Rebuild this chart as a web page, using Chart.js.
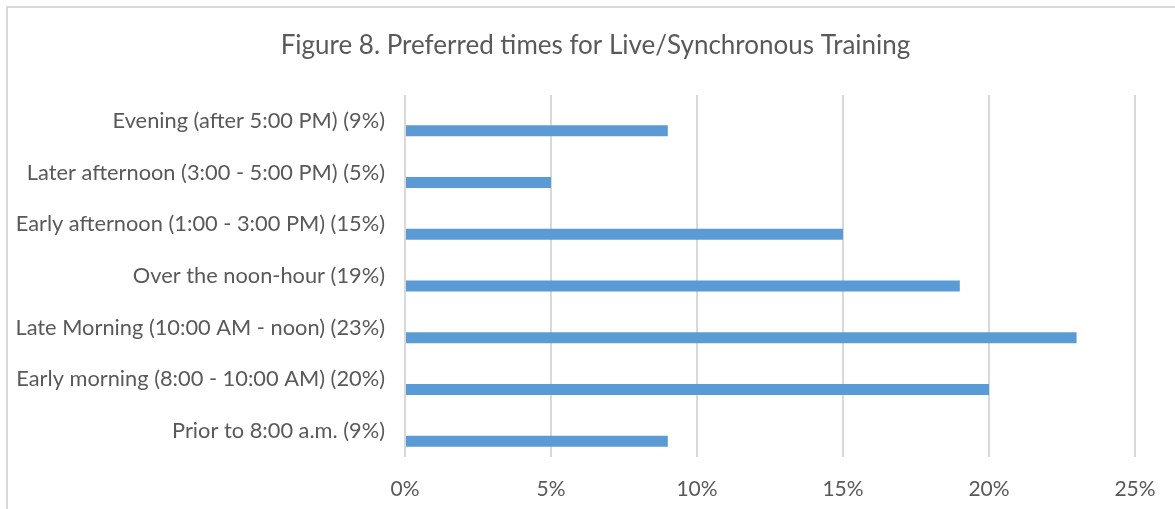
<!DOCTYPE html>
<html>
<head>
<meta charset="utf-8">
<script src="https://cdn.jsdelivr.net/npm/chart.js@4"></script>
<style>
html,body{margin:0;padding:0;background:#fff;overflow:hidden;width:1175px;height:509px;}
#frame{position:absolute;left:6px;top:6px;width:1300px;height:600px;border-top:2px solid #d9d9d9;border-left:2px solid #d9d9d9;}
#wrap{position:absolute;left:8px;top:8px;width:1175px;height:501px;}
</style>
</head>
<body>
<div id="frame"></div>
<div id="wrap"><canvas id="c"></canvas></div>
<script>
const categories = [
  "Evening (after 5:00 PM) (9%)",
  "Later afternoon (3:00 - 5:00 PM) (5%)",
  "Early afternoon (1:00 - 3:00 PM) (15%)",
  "Over the noon-hour (19%)",
  "Late Morning (10:00 AM - noon) (23%)",
  "Early morning (8:00 - 10:00 AM) (20%)",
  "Prior to 8:00 a.m. (9%)"
];
const values = [9, 5, 15, 19, 23, 20, 9];
const spacerValues = [null, null, null, null, null, null, null];
const titleText = "Figure 8. Preferred times for Live/Synchronous Training";
const fontFam = "Lato, 'Open Sans', sans-serif";

// Centre the title over the whole chart frame (which extends past the right edge)
const titleShift = {
  id: 'titleShift',
  afterLayout(chart) {
    const t = chart.titleBlock;
    if (t) { t.left += 24; t.right += 24; }
  }
};

new Chart(document.getElementById('c'), {
  type: 'bar',
  data: {
    labels: categories,
    datasets: [
      { label: 'spacer', data: spacerValues, backgroundColor: 'rgba(0,0,0,0)' },
      { label: 'Share', data: values, backgroundColor: '#5b9bd5', borderWidth: 0 }
    ]
  },
  plugins: [titleShift],
  options: {
    indexAxis: 'y',
    responsive: true,
    maintainAspectRatio: false,
    animation: false,
    datasets: { bar: { categoryPercentage: 0.774, barPercentage: 0.55 } },
    layout: { padding: { left: 0, right: 48, top: 0, bottom: 0 } },
    plugins: {
      legend: { display: false },
      tooltip: { enabled: false },
      title: {
        display: true,
        text: titleText,
        color: '#595959',
        font: { family: fontFam, size: 26, weight: 'normal', lineHeight: 1.2 },
        padding: { top: 22.4, bottom: 33.4 }
      }
    },
    scales: {
      x: {
        min: 0, max: 25,
        ticks: { stepSize: 5, callback: v => v + '%', color: '#595959', font: { family: fontFam, size: 21, lineHeight: 1.2 }, padding: 19.4 },
        grid: { color: '#d9d9d9', lineWidth: 2, drawTicks: false },
        border: { display: false },
        afterFit: s => { s.height = 52; }
      },
      y: {
        ticks: { color: '#595959', font: { family: fontFam, size: 21.8 }, padding: 20 },
        grid: { display: false, drawTicks: false },
        border: { display: false },
        afterFit: s => { s.width = 397; }
      }
    }
  }
});
</script>
</body>
</html>
